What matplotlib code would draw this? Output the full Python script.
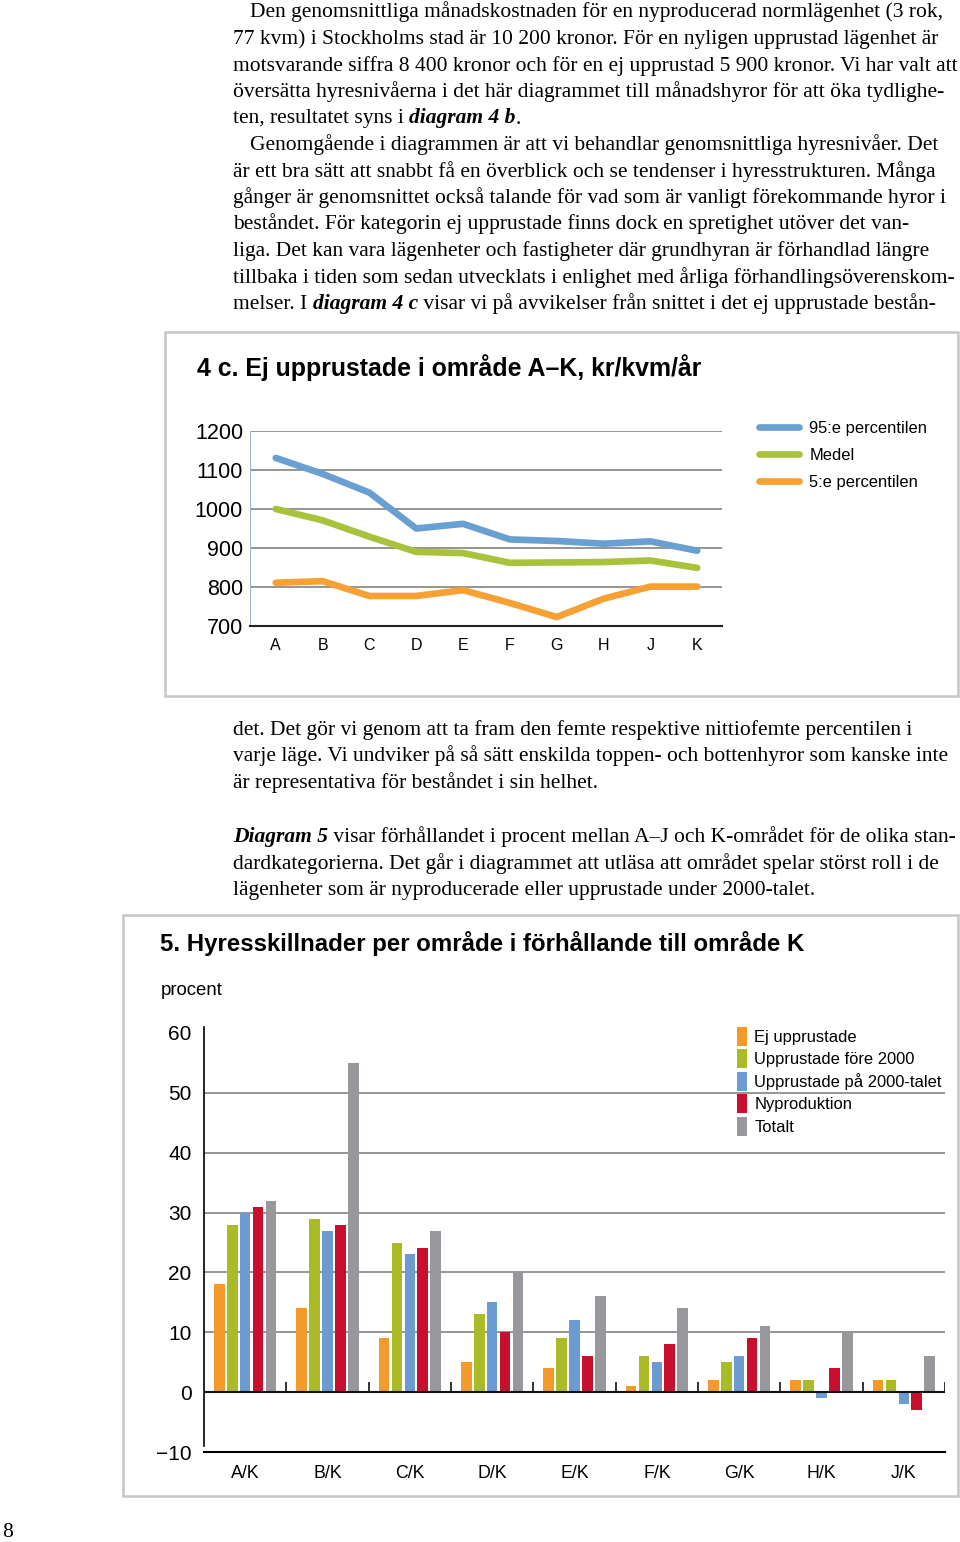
import matplotlib
matplotlib.use('Agg')
import matplotlib.pyplot as plt
import numpy as np
from matplotlib.patches import Rectangle

W, H = 960, 1542

# ---- data: diagram 4 c ----
areas = ['A', 'B', 'C', 'D', 'E', 'F', 'G', 'H', 'J', 'K']
p95 = [1131, 1090, 1042, 950, 962, 922, 918, 911, 917, 893]
medel = [1000, 971, 929, 890, 887, 862, 863, 864, 868, 849]
p5 = [811, 815, 777, 777, 792, 759, 723, 770, 801, 801]
line_labels = ['95:e percentilen', 'Medel', '5:e percentilen']
line_yticks = [700, 800, 900, 1000, 1100, 1200]

# ---- data: diagram 5 ----
ratios = ['A/K', 'B/K', 'C/K', 'D/K', 'E/K', 'F/K', 'G/K', 'H/K', 'J/K']
ej_upprustade = [18, 14, 9, 5, 4, 1, 2, 2, 2]
fore_2000 = [28, 29, 25, 13, 9, 6, 5, 2, 2]
pa_2000 = [30, 27, 23, 15, 12, 5, 6, -1, -2]
nyproduktion = [31, 28, 24, 10, 6, 8, 9, 4, -3]
totalt = [32, 55, 27, 20, 16, 14, 11, 10, 6]
bar_labels = ['Ej upprustade', 'Upprustade före 2000', 'Upprustade på 2000-talet',
              'Nyproduktion', 'Totalt']
bar_yticks = [-10, 0, 10, 20, 30, 40, 50, 60]
grid_levels = [10, 20, 30, 40, 50]

# ---- body text (segments: text, bold-italic flag) ----
block1 = [
    (250, [('Den genomsnittliga månadskostnaden för en nyproducerad normlägenhet (3 rok,', 0)]),
    (233, [('77 kvm) i Stockholms stad är 10 200 kronor. För en nyligen upprustad lägenhet är', 0)]),
    (233, [('motsvarande siffra 8 400 kronor och för en ej upprustad 5 900 kronor. Vi har valt att', 0)]),
    (233, [('översätta hyresnivåerna i det här diagrammet till månadshyror för att öka tydlighe-', 0)]),
    (233, [('ten, resultatet syns i ', 0), ('diagram 4 b', 1), ('.', 0)]),
    (250, [('Genomgående i diagrammen är att vi behandlar genomsnittliga hyresnivåer. Det', 0)]),
    (233, [('är ett bra sätt att snabbt få en överblick och se tendenser i hyresstrukturen. Många', 0)]),
    (233, [('gånger är genomsnittet också talande för vad som är vanligt förekommande hyror i', 0)]),
    (233, [('beståndet. För kategorin ej upprustade finns dock en spretighet utöver det van-', 0)]),
    (233, [('liga. Det kan vara lägenheter och fastigheter där grundhyran är förhandlad längre', 0)]),
    (233, [('tillbaka i tiden som sedan utvecklats i enlighet med årliga förhandlingsöverenskom-', 0)]),
    (233, [('melser. I ', 0), ('diagram 4 c', 1), (' visar vi på avvikelser från snittet i det ej upprustade bestån-', 0)]),
]
block2 = [
    (233, [('det. Det gör vi genom att ta fram den femte respektive nittiofemte percentilen i', 0)]),
    (233, [('varje läge. Vi undviker på så sätt enskilda toppen- och bottenhyror som kanske inte', 0)]),
    (233, [('är representativa för beståndet i sin helhet.', 0)]),
]
block3 = [
    (233, [('Diagram 5', 1), (' visar förhållandet i procent mellan A–J och K-området för de olika stan-', 0)]),
    (233, [('dardkategorierna. Det går i diagrammet att utläsa att området spelar störst roll i de', 0)]),
    (233, [('lägenheter som är nyproducerade eller upprustade under 2000-talet.', 0)]),
]

SERIF = ['Liberation Serif', 'DejaVu Serif']
SANS = ['Liberation Sans', 'DejaVu Sans']
TEXT_SIZE = 15.45


def fx(x):
    return x / W


def fy(y):
    return 1 - y / H


fig = plt.figure(figsize=(W / 100, H / 100), dpi=100)
renderer = fig.canvas.get_renderer()


def text_width(s, **kw):
    # measure including spaces by wrapping with bars
    a = fig.text(0, 0, '|' + s + '|', **kw)
    b = fig.text(0, 0, '||', **kw)
    w = a.get_window_extent(renderer).width - b.get_window_extent(renderer).width
    a.remove()
    b.remove()
    return w


def put_block(lines, y0, step=26.5):
    for i, (x, segs) in enumerate(lines):
        cur = x
        for s, bi in segs:
            kw = dict(fontsize=TEXT_SIZE, family=SERIF,
                      style='italic' if bi else 'normal',
                      weight='bold' if bi else 'normal')
            fig.text(fx(cur), fy(y0 + i * step), s, va='baseline', ha='left', **kw)
            cur += text_width(s, **kw)


put_block(block1, 17.5)
put_block(block2, 735)
put_block(block3, 842)
fig.text(fx(2), fy(1537), '8', fontsize=TEXT_SIZE, family=SERIF, va='baseline')

# frames around the two diagrams
for (x0, y0, x1, y1) in [(165, 332, 958, 696), (123, 915, 958, 1496)]:
    fig.patches.append(Rectangle((fx(x0), fy(y1)), (x1 - x0) / W, (y1 - y0) / H,
                                 transform=fig.transFigure, fill=False,
                                 edgecolor='#c6c6c2', lw=1.8))

# ---- diagram 4 c ----
fig.text(fx(197), fy(368), '4 c. Ej upprustade i område A–K, kr/kvm/år',
         fontsize=17.9, weight='bold', family=SANS, va='center', ha='left')

ax1 = fig.add_axes([fx(250), fy(626), 472 / W, 195 / H])
x = np.arange(len(areas))
line_colors = ['#6a9fd2', '#a9c23c', '#f7a033']
for vals, col, lab in zip([p95, medel, p5], line_colors, line_labels):
    ax1.plot(x, vals, color=col, lw=4.8, solid_capstyle='round',
             solid_joinstyle='round', label=lab)
ax1.set_ylim(700, 1200)
ax1.set_xlim(-0.55, 9.53)
ax1.set_yticks(line_yticks)
ax1.set_xticks(x)
ax1.set_xticklabels(areas, fontsize=11.5, family=SANS)
ax1.set_yticklabels([str(v) for v in line_yticks], fontsize=15.5, family=SANS)
ax1.tick_params(length=0)
ax1.tick_params(axis='x', pad=9)
ax1.tick_params(axis='y', pad=5)
ax1.grid(axis='y', color='#8c8c8c', lw=1.3)
ax1.set_axisbelow(True)
for s in ['top', 'right']:
    ax1.spines[s].set_visible(False)
ax1.spines['bottom'].set_color('#222222')
ax1.spines['bottom'].set_linewidth(1.5)
ax1.spines['left'].set_color('#9fb7cf')
ax1.spines['left'].set_linewidth(0.8)
ax1.legend(loc='upper left', bbox_to_anchor=(fx(759), fy(421)),
           bbox_transform=fig.transFigure, frameon=False,
           handlelength=2.4, handletextpad=0.65, labelspacing=0.72,
           borderpad=0, borderaxespad=0, prop={'family': SANS, 'size': 11.9})

# ---- diagram 5 ----
fig.text(fx(160), fy(943), '5. Hyresskillnader per område i förhållande till område K',
         fontsize=17.3, weight='bold', family=SANS, va='center', ha='left')
fig.text(fx(161), fy(990), 'procent', fontsize=13.4, family=SANS, va='center', ha='left')

ax2 = fig.add_axes([fx(204), fy(1452), 741 / W, 419 / H])
xi = np.arange(len(ratios))
series = [ej_upprustade, fore_2000, pa_2000, nyproduktion, totalt]
bar_colors = ['#f39a2b', '#aabb26', '#6b9bd0', '#c8102e', '#97989b']
slot = 0.157
for k, (vals, col, lab) in enumerate(zip(series, bar_colors, bar_labels)):
    ax2.bar(xi + (k - 2) * slot, vals, width=0.128, color=col, label=lab, zorder=3)
for g in grid_levels:
    ax2.axhline(g, color='#8c8c8c', lw=1.3, zorder=1)
ax2.axhline(0, color='#111111', lw=1.5, zorder=4)
ax2.vlines(xi[1:] - 0.5, 0, 1.7, color='#111111', lw=1.2, zorder=4)
ax2.vlines([len(ratios) - 0.5], 0, 1.7, color='#111111', lw=1.2, zorder=4)
ax2.set_ylim(-10, 60)
ax2.set_xlim(-0.5, len(ratios) - 0.5)
ax2.set_yticks(bar_yticks)
ax2.set_yticklabels(['−10' if v < 0 else str(v) for v in bar_yticks],
                    fontsize=15, family=SANS)
ax2.set_xticks(xi)
ax2.set_xticklabels(ratios, fontsize=12.8, family=SANS)
ax2.tick_params(length=0)
ax2.tick_params(axis='x', pad=9)
ax2.tick_params(axis='y', pad=9)
for s in ['top', 'right']:
    ax2.spines[s].set_visible(False)
ax2.spines['bottom'].set_linewidth(1.5)
ax2.spines['left'].set_linewidth(1.2)
ax2.spines['left'].set_bounds(-9, 61)
ax2.legend(loc='upper left', bbox_to_anchor=(fx(737), fy(1027)),
           bbox_transform=fig.transFigure, frameon=False,
           handlelength=0.6, handleheight=1.4, handletextpad=0.45,
           labelspacing=0.2, borderpad=0, borderaxespad=0,
           prop={'family': SANS, 'size': 11.9})

fig.savefig('out.png', dpi=100)
